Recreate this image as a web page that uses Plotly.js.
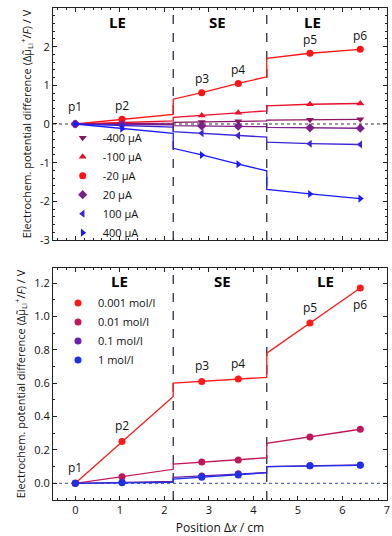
<!DOCTYPE html>
<html>
<head>
<meta charset="utf-8">
<script src="https://cdn.plot.ly/plotly-3.0.1.min.js"></script>
<style>
html, body { margin: 0; padding: 0; background: #fff; }
#chart { width: 392px; height: 536px; }
</style>
</head>
<body>
<div id="chart"></div>
<script>
"use strict";

// positions of the probes p1..p6 and of the LE/SE interfaces (cm)
var probeX = [0, 1.05, 2.84, 3.66, 5.27, 6.40];
var probeNames = ["p1", "p2", "p3", "p4", "p5", "p6"];
var interfaces = [2.2, 4.3];
var regionNames = ["LE", "SE", "LE"];

// top panel: current series, values at p1..p6 and at the interfaces (before / after each jump)
var currentNames = ["-400 \u00b5A", "-100 \u00b5A", "-20 \u00b5A", "20 \u00b5A", "100 \u00b5A", "400 \u00b5A"];
var curM400 = [0, 0.01, 0.05, 0.07, 0.11, 0.12];
var curM400Jump = [0.02, 0.04, 0.08, 0.10];
var curM100 = [0, 0.04, 0.22, 0.29, 0.51, 0.53];
var curM100Jump = [0.08, 0.17, 0.34, 0.47];
var curM20 = [0, 0.12, 0.81, 1.05, 1.83, 1.93];
var curM20Jump = [0.25, 0.64, 1.22, 1.70];
var curP20 = [0, -0.01, -0.05, -0.06, -0.10, -0.11];
var curP20Jump = [-0.02, -0.04, -0.07, -0.09];
var curP100 = [0, -0.04, -0.24, -0.30, -0.51, -0.53];
var curP100Jump = [-0.08, -0.20, -0.34, -0.47];
var curP400 = [0, -0.12, -0.80, -1.04, -1.81, -1.93];
var curP400Jump = [-0.24, -0.63, -1.21, -1.69];

// bottom panel: concentration series
var concNames = ["0.001 mol/l", "0.01 mol/l", "0.1 mol/l", "1 mol/l"];
var conc0001 = [0, 0.25, 0.61, 0.625, 0.96, 1.17];
var conc0001Jump = [0.52, 0.60, 0.635, 0.78];
var conc001 = [0, 0.04, 0.127, 0.14, 0.278, 0.324];
var conc001Jump = [0.084, 0.115, 0.153, 0.24];
var conc01 = [0, 0.006, 0.044, 0.058, 0.105, 0.11];
var conc01Jump = [0.012, 0.035, 0.065, 0.10];
var conc1 = [0, 0.003, 0.036, 0.05, 0.105, 0.108];
var conc1Jump = [0.005, 0.025, 0.063, 0.10];

var topTicks = [3, 2, 1, 0, -1, -2, -3];
var topTickText = ["3", "2", "1", "0", "-1", "-2", "-3"];
var bottomTicks = [0, 0.2, 0.4, 0.6, 0.8, 1.0, 1.2];
var bottomTickText = ["0.0", "0.2", "0.4", "0.6", "0.8", "1.0", "1.2"];

var FONT = "Open Sans, Liberation Sans, sans-serif";

// the potential is piecewise linear with jumps at the two interfaces
function profile(vals, jumps){
    return {
        x: [probeX[0], probeX[1], interfaces[0], interfaces[0], probeX[2], probeX[3],
            interfaces[1], interfaces[1], probeX[4], probeX[5]],
        y: [vals[0], vals[1], jumps[0], jumps[1], vals[2], vals[3],
            jumps[2], jumps[3], vals[4], vals[5]]
    };
}

function addSeries(traces, name, vals, jumps, color, symbol, panel, legend){
    var p = profile(vals, jumps);
    traces.push({
        x: p.x, y: p.y,
        xaxis: panel === 1 ? "x" : "x2",
        yaxis: panel === 1 ? "y" : "y2",
        mode: "lines",
        line: {color: color, width: 1.3},
        showlegend: false,
        hoverinfo: "skip"
    });
    traces.push({
        x: probeX, y: vals,
        xaxis: panel === 1 ? "x" : "x2",
        yaxis: panel === 1 ? "y" : "y2",
        mode: "markers",
        name: name,
        legend: legend,
        marker: {color: color, symbol: symbol, size: 7}
    });
}

var traces = [];
addSeries(traces, currentNames[0], curM400, curM400Jump, "#8c1560", "triangle-down", 1, "legend");
addSeries(traces, currentNames[1], curM100, curM100Jump, "#e8102c", "triangle-up", 1, "legend");
addSeries(traces, currentNames[2], curM20, curM20Jump, "#ff1414", "circle", 1, "legend");
addSeries(traces, currentNames[3], curP20, curP20Jump, "#7a1f8c", "diamond", 1, "legend");
addSeries(traces, currentNames[4], curP100, curP100Jump, "#3a26d4", "triangle-left", 1, "legend");
addSeries(traces, currentNames[5], curP400, curP400Jump, "#1a1aff", "triangle-right", 1, "legend");

addSeries(traces, concNames[0], conc0001, conc0001Jump, "#ff1a1a", "circle", 2, "legend2");
addSeries(traces, concNames[1], conc001, conc001Jump, "#c0175a", "circle", 2, "legend2");
addSeries(traces, concNames[2], conc01, conc01Jump, "#6a1fb0", "circle", 2, "legend2");
addSeries(traces, concNames[3], conc1, conc1Jump, "#1f2fe8", "circle", 2, "legend2");

var yTitle = "Electrochem. potential difference (\u0394\u03bc\u0303<sub>Li</sub><sup>+</sup>/<i>F</i>) / V";

function baseAxis(){
    return {
        showline: true, linecolor: "#222", linewidth: 1, mirror: "ticks",
        ticks: "inside", ticklen: 4, tickwidth: 1, tickcolor: "#222",
        showgrid: false, zeroline: false,
        tickfont: {family: FONT, size: 11, color: "#111"}
    };
}

var xTop = baseAxis();
Object.assign(xTop, {anchor: "y", range: [-0.5, 7], dtick: 1, showticklabels: false,
    minor: {ticks: "inside", dtick: 0.2, ticklen: 2, tickcolor: "#222"}});
var yTop = baseAxis();
Object.assign(yTop, {domain: [0.5285, 1], anchor: "x", range: [-3, 3],
    tickvals: topTicks, ticktext: topTickText,
    minor: {ticks: "inside", dtick: 0.2, ticklen: 2, tickcolor: "#222"},
    title: {text: yTitle, font: {family: FONT, size: 11, color: "#111"}, standoff: 6}});
var xBot = baseAxis();
Object.assign(xBot, {anchor: "y2", range: [-0.5, 7], dtick: 1,
    minor: {ticks: "inside", dtick: 0.2, ticklen: 2, tickcolor: "#222"},
    title: {text: "Position \u0394<i>x</i> / cm", font: {family: FONT, size: 12, color: "#111"}, standoff: 8}});
var yBot = baseAxis();
Object.assign(yBot, {domain: [0, 0.4715], anchor: "x2", range: [-0.1, 1.29],
    tickvals: bottomTicks, ticktext: bottomTickText,
    minor: {ticks: "inside", dtick: 0.1, ticklen: 2, tickcolor: "#222"},
    title: {text: yTitle, font: {family: FONT, size: 11, color: "#111"}, standoff: 6}});

var shapes = [];
["x", "x2"].forEach(function(xr, i){
    var yr = i === 0 ? "y" : "y2";
    interfaces.forEach(function(b){
        shapes.push({type: "line", xref: xr, yref: yr + " domain", x0: b, x1: b, y0: 0, y1: 1,
            line: {color: "#2a2a40", width: 1.3, dash: "dash"}, layer: "below"});
    });
    shapes.push({type: "line", xref: xr + " domain", yref: yr, x0: 0, x1: 1, y0: 0, y1: 0,
        line: {color: i === 0 ? "#333" : "#3344bb", width: 1, dash: "dot"}, layer: "below"});
});

var annotations = [];
var regionTopX = [0.95, 3.2, 5.33];
var regionBotX = [1.0, 3.3, 5.63];
regionNames.forEach(function(r, i){
    annotations.push({xref: "x", yref: "y", x: regionTopX[i], y: 2.64, text: "<b>" + r + "</b>",
        showarrow: false, font: {family: FONT, size: 15, color: "#000"}});
    annotations.push({xref: "x2", yref: "y2", x: regionBotX[i], y: 1.215, text: "<b>" + r + "</b>",
        showarrow: false, font: {family: FONT, size: 15, color: "#000"}});
});
probeNames.forEach(function(p, i){
    annotations.push({xref: "x", yref: "y", x: probeX[i], y: curM20[i], yshift: i === 0 ? 17 : 14,
        text: p, showarrow: false, font: {family: FONT, size: 12, color: "#111"}});
    annotations.push({xref: "x2", yref: "y2", x: probeX[i], y: conc0001[i], yshift: i === 5 ? -16 : 16,
        text: p, showarrow: false, font: {family: FONT, size: 12, color: "#111"}});
});

var layout = {
    width: 392, height: 536,
    margin: {l: 53, r: 5, t: 8, b: 36},
    paper_bgcolor: "#fff", plot_bgcolor: "#fff",
    font: {family: FONT, color: "#111"},
    xaxis: xTop, yaxis: yTop, xaxis2: xBot, yaxis2: yBot,
    shapes: shapes,
    annotations: annotations,
    legend: {x: 0.029, y: 0.766, xanchor: "left", yanchor: "top", bgcolor: "rgba(0,0,0,0)",
        font: {family: FONT, size: 11, color: "#111"}, itemwidth: 30, tracegroupgap: 0},
    legend2: {x: 0.015, y: 0.43, xanchor: "left", yanchor: "top", bgcolor: "rgba(0,0,0,0)",
        font: {family: FONT, size: 11, color: "#111"}, itemwidth: 30, tracegroupgap: 0}
};

Plotly.newPlot("chart", traces, layout, {displayModeBar: false, staticPlot: true});
</script>
</body>
</html>
